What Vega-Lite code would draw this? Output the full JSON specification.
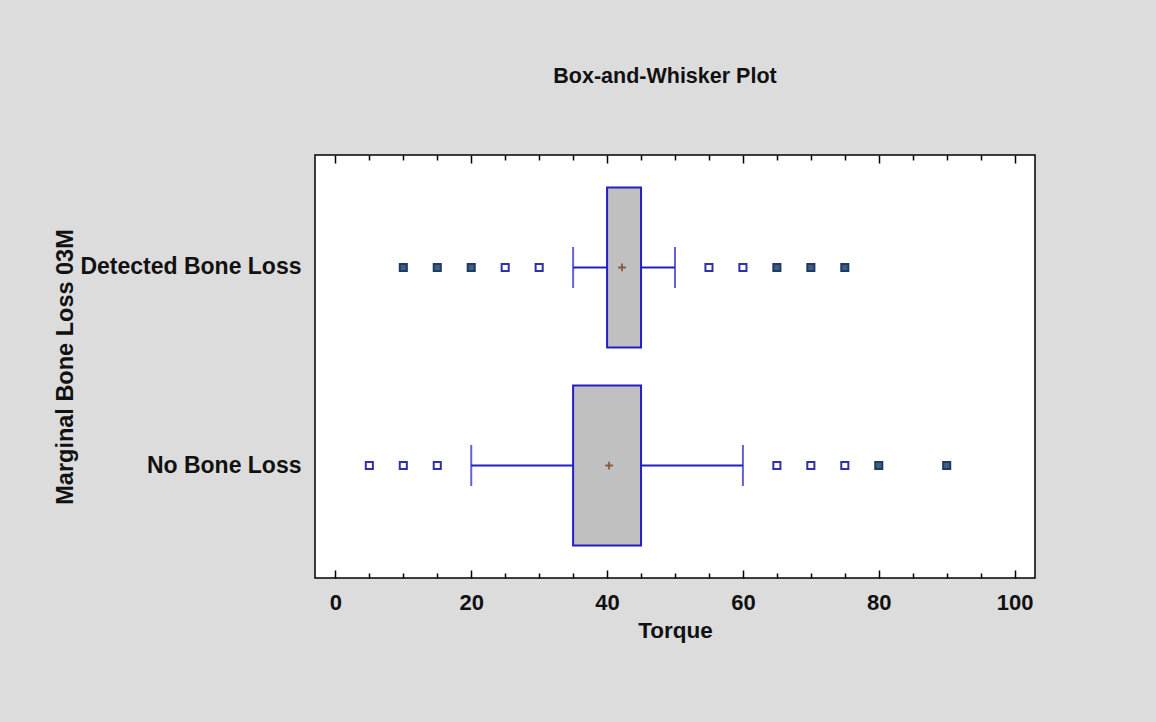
{
  "$schema": "https://vega.github.io/schema/vega-lite/v6.json",
  "autosize": "none",
  "width": 720,
  "height": 423,
  "padding": {"left": 315, "top": 155, "right": 121, "bottom": 144},
  "background": "#dcdcdc",
  "config": {
    "view": {"fill": "white", "stroke": "black", "strokeWidth": 1.5},
    "font": "Liberation Sans"
  },
  "title": {
    "text": "Box-and-Whisker Plot",
    "fontSize": 21.5,
    "fontWeight": "bold",
    "color": "#111111",
    "anchor": "middle",
    "offset": 67,
    "dx": -10
  },
  "datasets": {
    "boxes": [
      {"group": "Detected Bone Loss", "lo": 35, "q1": 40, "q3": 45, "hi": 50, "mean": 42.2},
      {"group": "No Bone Loss", "lo": 20, "q1": 35, "q3": 45, "hi": 60, "mean": 40.3}
    ],
    "outliers": [
      {"group": "Detected Bone Loss", "value": 10, "kind": "far"},
      {"group": "Detected Bone Loss", "value": 15, "kind": "far"},
      {"group": "Detected Bone Loss", "value": 20, "kind": "far"},
      {"group": "Detected Bone Loss", "value": 25, "kind": "near"},
      {"group": "Detected Bone Loss", "value": 30, "kind": "near"},
      {"group": "Detected Bone Loss", "value": 55, "kind": "near"},
      {"group": "Detected Bone Loss", "value": 60, "kind": "near"},
      {"group": "Detected Bone Loss", "value": 65, "kind": "far"},
      {"group": "Detected Bone Loss", "value": 70, "kind": "far"},
      {"group": "Detected Bone Loss", "value": 75, "kind": "far"},
      {"group": "No Bone Loss", "value": 5, "kind": "near"},
      {"group": "No Bone Loss", "value": 10, "kind": "near"},
      {"group": "No Bone Loss", "value": 15, "kind": "near"},
      {"group": "No Bone Loss", "value": 65, "kind": "near"},
      {"group": "No Bone Loss", "value": 70, "kind": "near"},
      {"group": "No Bone Loss", "value": 75, "kind": "near"},
      {"group": "No Bone Loss", "value": 80, "kind": "far"},
      {"group": "No Bone Loss", "value": 90, "kind": "far"}
    ]
  },
  "resolve": {"axis": {"x": "independent"}},
  "layer": [
    {
      "data": {"name": "boxes"},
      "mark": {"type": "rule", "color": "#2020c4", "strokeWidth": 2},
      "encoding": {
        "y": {
          "field": "group",
          "type": "nominal",
          "scale": {"domain": ["Detected Bone Loss", "No Bone Loss"], "paddingInner": 0, "paddingOuter": 0.068},
          "axis": {
            "title": "Marginal Bone Loss 03M",
            "ticks": false,
            "domain": false,
            "labelFontSize": 23,
            "labelFontWeight": "bold",
            "labelColor": "#111111",
            "labelPadding": 14,
            "labelLimit": 0,
            "titleFontSize": 23.5,
            "titleFontWeight": "bold",
            "titleColor": "#111111",
            "titleX": -238,
            "titleBaseline": "bottom",
            "titleAngle": 270
          }
        },
        "x": {
          "field": "lo",
          "type": "quantitative",
          "scale": {"domain": [-3, 103], "nice": false, "zero": false},
          "axis": {
            "orient": "bottom",
            "values": [0, 5, 10, 15, 20, 25, 30, 35, 40, 45, 50, 55, 60, 65, 70, 75, 80, 85, 90, 95, 100],
            "labelExpr": "datum.value % 20 === 0 ? datum.label : ''",
            "tickSize": {"condition": {"test": "datum.value % 20 === 0", "value": -8}, "value": -5},
            "tickColor": "black",
            "tickWidth": 1.5,
            "domain": false,
            "grid": false,
            "labelFontSize": 22,
            "labelFontWeight": "bold",
            "labelColor": "#111111",
            "labelPadding": 22,
            "labelFlush": false,
            "title": "Torque",
            "titleFontSize": 22.5,
            "titleFontWeight": "bold",
            "titleColor": "#111111",
            "titlePadding": 6
          }
        },
        "x2": {"field": "hi"}
      }
    },
    {
      "data": {"name": "boxes"},
      "mark": {"type": "tick", "color": "#2020c4", "thickness": 2, "size": 41, "orient": "vertical"},
      "encoding": {
        "y": {"field": "group", "type": "nominal"},
        "x": {"field": "lo", "type": "quantitative", "axis": null}
      }
    },
    {
      "data": {"name": "boxes"},
      "mark": {"type": "tick", "color": "#2020c4", "thickness": 2, "size": 41, "orient": "vertical"},
      "encoding": {
        "y": {"field": "group", "type": "nominal"},
        "x": {"field": "hi", "type": "quantitative", "axis": null}
      }
    },
    {
      "data": {"name": "boxes"},
      "mark": {"type": "bar", "fill": "#c0c0c0", "stroke": "#2020c4", "strokeWidth": 2, "size": 160},
      "encoding": {
        "y": {"field": "group", "type": "nominal"},
        "x": {"field": "q1", "type": "quantitative", "axis": null},
        "x2": {"field": "q3"}
      }
    },
    {
      "data": {"name": "boxes"},
      "mark": {"type": "point", "shape": "M-1,0L1,0M0,-1L0,1", "filled": false, "stroke": "#8b5a3a", "strokeWidth": 1.8, "size": 60, "opacity": 1},
      "encoding": {
        "y": {"field": "group", "type": "nominal"},
        "x": {"field": "mean", "type": "quantitative", "axis": null}
      }
    },
    {
      "data": {"name": "outliers"},
      "mark": {"type": "point", "shape": "square", "strokeWidth": 2, "size": 50, "opacity": 1},
      "encoding": {
        "y": {"field": "group", "type": "nominal"},
        "x": {
          "field": "value",
          "type": "quantitative",
          "axis": {
            "orient": "top",
            "values": [0, 5, 10, 15, 20, 25, 30, 35, 40, 45, 50, 55, 60, 65, 70, 75, 80, 85, 90, 95, 100],
            "labels": false,
            "tickSize": {"condition": {"test": "datum.value % 20 === 0", "value": -8}, "value": -5},
            "tickColor": "black",
            "tickWidth": 1.5,
            "domain": false,
            "grid": false,
            "title": null
          }
        },
        "fill": {
          "field": "kind",
          "type": "nominal",
          "scale": {"domain": ["near", "far"], "range": ["white", "#3d6080"]},
          "legend": null
        },
        "stroke": {
          "field": "kind",
          "type": "nominal",
          "scale": {"domain": ["near", "far"], "range": ["#3030a8", "#1f3a66"]},
          "legend": null
        }
      }
    }
  ]
}
